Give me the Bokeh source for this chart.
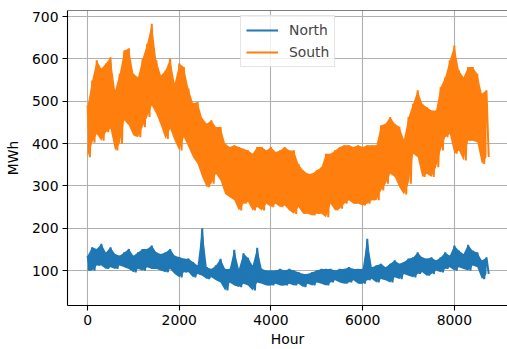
from bokeh.plotting import figure
from bokeh.models import Range1d, Legend, LegendItem, Span
from bokeh.embed import file_html
from bokeh.resources import INLINE

step_hours = 100
south_high = [490, 549, 597, 577, 589, 604, 526, 565, 620, 625,
              565, 557, 601, 636, 683, 597, 561, 573, 601, 542,
              589, 581, 530, 496, 498, 460, 447, 455, 439, 439,
              400, 392, 396, 392, 388, 384, 376, 392, 392, 384,
              392, 380, 384, 392, 384, 384, 352, 337, 329, 329,
              337, 344, 376, 376, 384, 392, 396, 396, 392, 396,
              392, 396, 396, 396, 443, 447, 463, 447, 440, 410,
              463, 494, 526, 494, 486, 478, 478, 533, 557, 597,
              632, 573, 557, 581, 581, 565, 518, 526]
south_low = [368, 402, 423, 407, 427, 435, 384, 400, 455, 443,
             419, 415, 439, 463, 490, 470, 443, 411, 435, 407,
             384, 415, 392, 368, 352, 321, 297, 305, 329, 313,
             281, 273, 266, 242, 258, 262, 242, 250, 242, 258,
             250, 258, 250, 254, 242, 234, 250, 234, 234, 230,
             234, 234, 226, 258, 242, 246, 258, 266, 258, 258,
             254, 258, 266, 266, 289, 305, 329, 321, 297, 280,
             305, 376, 368, 321, 329, 321, 344, 384, 415, 423,
             376, 384, 360, 407, 407, 403, 352, 368]
north_high = [135, 155, 151, 163, 143, 155, 139, 135, 143, 151,
              135, 143, 151, 151, 159, 143, 139, 143, 151, 135,
              132, 128, 128, 120, 112, 200, 108, 104, 112, 128,
              104, 104, 149, 104, 141, 130, 112, 154, 104, 100,
              100, 100, 104, 100, 104, 100, 96, 92, 92, 96,
              100, 104, 104, 104, 100, 104, 104, 108, 104, 104,
              104, 175, 108, 112, 116, 108, 116, 124, 116, 120,
              128, 131, 143, 131, 128, 131, 124, 131, 143, 135,
              159, 147, 139, 161, 147, 143, 124, 131]
north_low = [100, 100, 112, 112, 104, 108, 104, 112, 108, 104,
             96, 104, 100, 108, 104, 104, 100, 96, 104, 92,
             84, 96, 96, 84, 92, 88, 80, 84, 77, 72,
             53, 72, 65, 61, 69, 65, 53, 72, 69, 65,
             65, 69, 65, 65, 69, 65, 69, 61, 69, 65,
             72, 69, 65, 72, 77, 72, 69, 72, 77, 69,
             69, 77, 80, 72, 80, 77, 72, 84, 80, 92,
             88, 84, 92, 96, 88, 92, 100, 96, 104, 108,
             100, 108, 104, 100, 112, 108, 80, 92]
x_ticks = [0, 2000, 4000, 6000, 8000]
y_ticks = [100, 200, 300, 400, 500, 600, 700]
series_names = ["North", "South"]

assert len(south_high) == len(south_low) == len(north_high) == len(north_low)
hours = [i * step_hours for i in range(len(south_high))]


def series(high, low):
    xs, ys = [], []
    for x, h, l in zip(hours, high, low):
        xs += [x, x + step_hours / 2]
        ys += [h, l]
    return xs, ys


FONT = "DejaVu Sans"
FS = "13.9px"
C_N = "#1f77b4"
C_S = "#ff7f0e"

p = figure(width=507, height=349, output_backend="svg", toolbar_location=None,
           x_range=Range1d(-438, 9159), y_range=Range1d(17.5, 714.5),
           min_border_left=67, min_border_right=0, min_border_top=10,
           min_border_bottom=44)
p.outline_line_color = None
p.background_fill_color = "white"

nx, ny = series(north_high, north_low)
sx, sy = series(south_high, south_low)
p.varea(x=hours, y1=north_low, y2=north_high, fill_color=C_N)
rn = p.line(nx, ny, line_color=C_N, line_width=2)
p.varea(x=hours, y1=south_low, y2=south_high, fill_color=C_S)
rs = p.line(sx, sy, line_color=C_S, line_width=2)

p.add_layout(Span(location=714.5, dimension="width", line_color="black", line_width=1.1))

for ax in (p.xaxis, p.yaxis):
    ax.axis_line_color = "black"
    ax.axis_line_width = 1.1
    ax.major_tick_line_color = "black"
    ax.major_tick_line_width = 1.1
    ax.major_tick_out = 5
    ax.major_tick_in = 0
    ax.minor_tick_line_color = None
    ax.major_label_text_font = FONT
    ax.major_label_text_font_size = FS
    ax.major_label_text_color = "black"
    ax.axis_label_text_font = FONT
    ax.axis_label_text_font_size = FS
    ax.axis_label_text_font_style = "normal"
    ax.axis_label_text_color = "black"
    ax.major_label_standoff = 4

p.xaxis.ticker = x_ticks
p.yaxis.ticker = y_ticks
p.xaxis.axis_label = "Hour"
p.yaxis.axis_label = "MWh"
p.xaxis.axis_label_standoff = 3
p.yaxis.axis_label_standoff = 8

p.xgrid.ticker = x_ticks
p.ygrid.ticker = y_ticks
p.grid.grid_line_color = "#b0b0b0"
p.grid.grid_line_width = 1.1

legend = Legend(items=[LegendItem(label=series_names[0], renderers=[rn]),
                       LegendItem(label=series_names[1], renderers=[rs])],
                location=(173, 238))
legend.border_line_color = "#cccccc"
legend.border_line_width = 1
legend.background_fill_alpha = 0.8
legend.label_text_font = FONT
legend.label_text_font_size = FS
legend.glyph_width = 32
legend.glyph_height = 18
legend.label_height = 18
legend.spacing = 4
legend.padding = 5
legend.margin = 0
legend.label_standoff = 11
p.add_layout(legend)

open("out.html", "w").write(file_html(p, INLINE))
